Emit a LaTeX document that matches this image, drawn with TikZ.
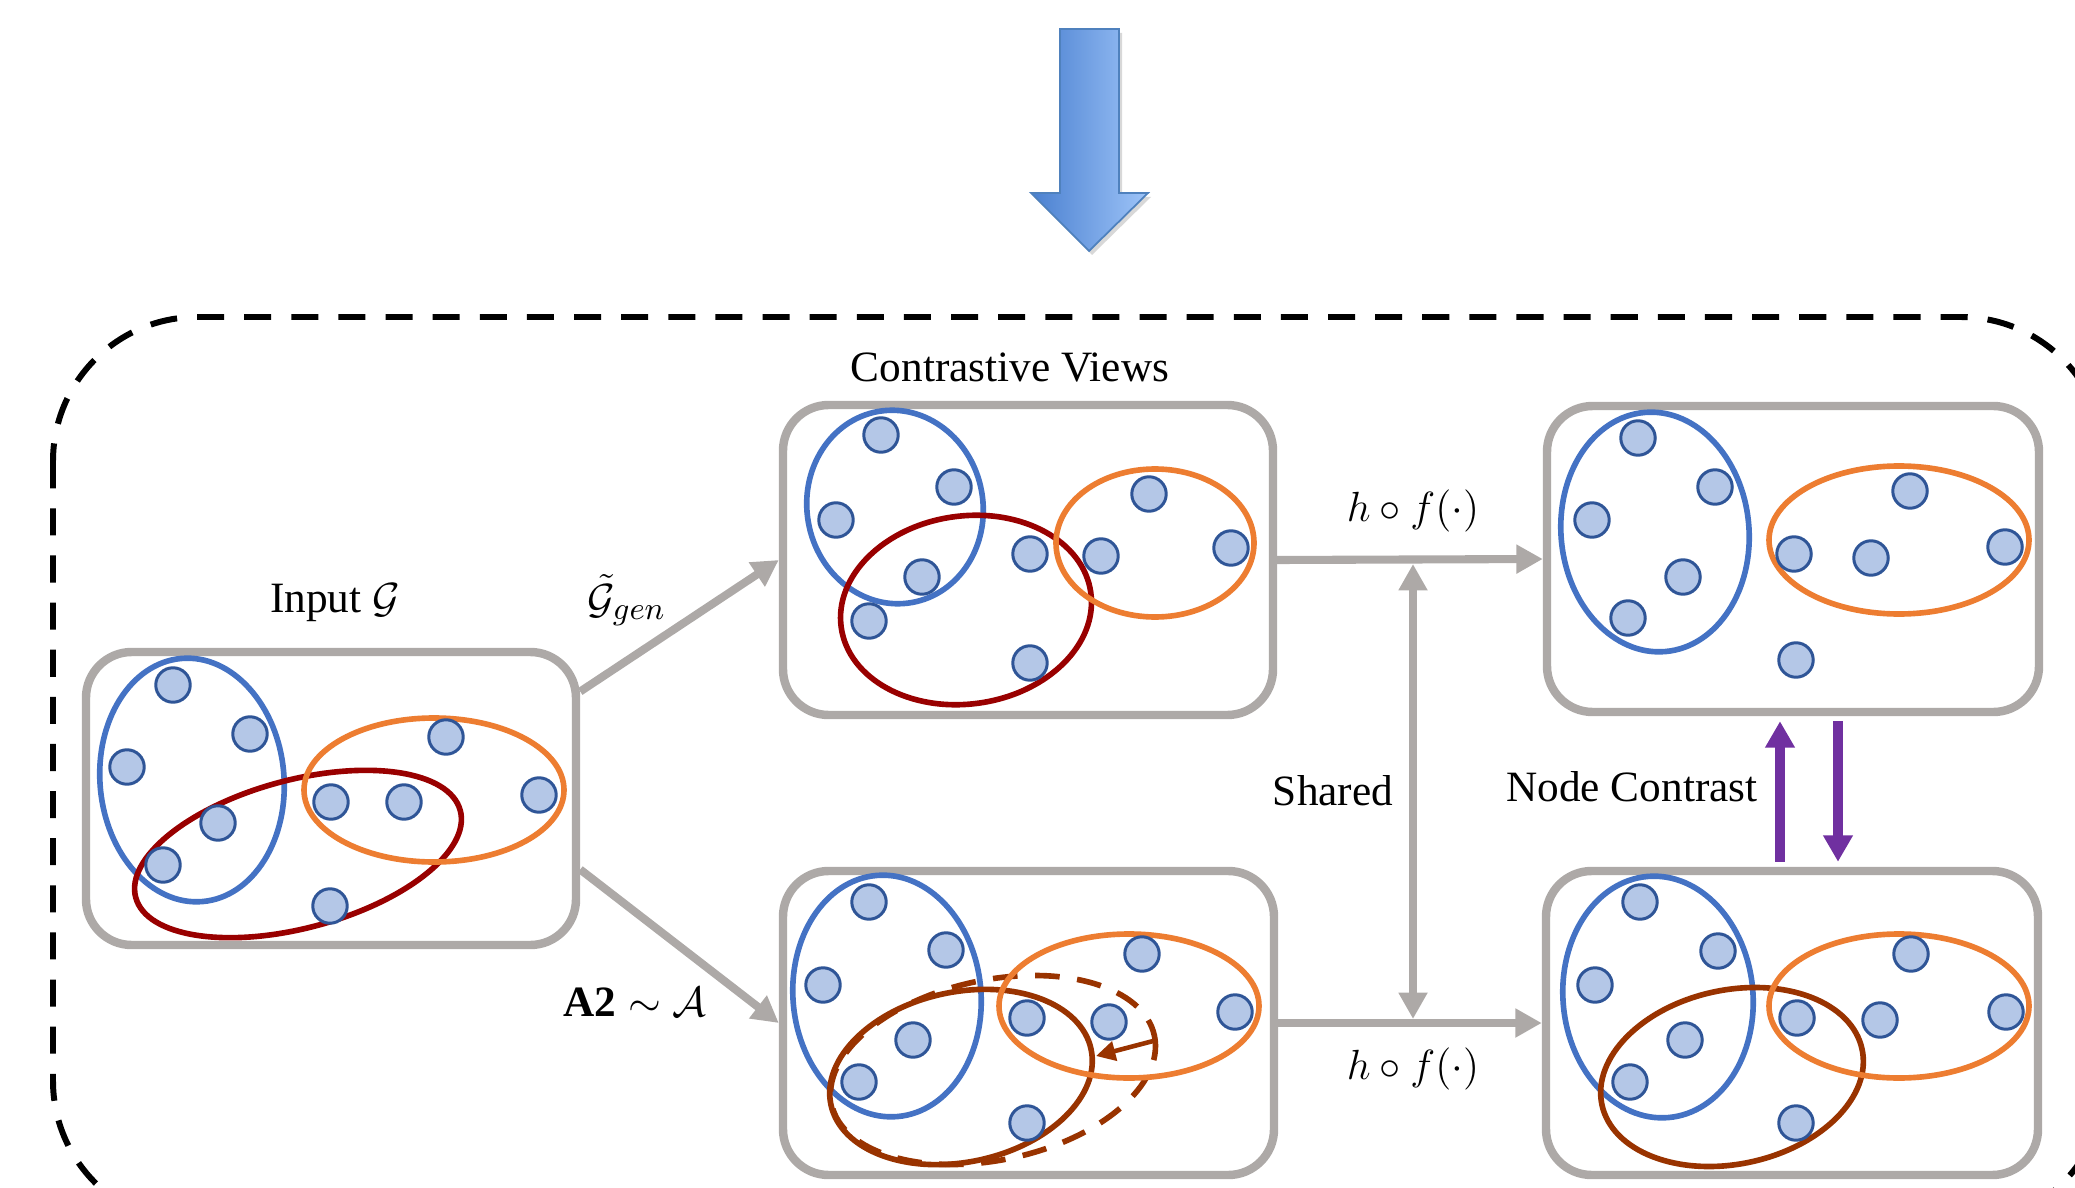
\documentclass[tikz,border=0pt]{standalone}
\usepackage{fontspec}
\setmainfont{Liberation Serif}
\usetikzlibrary{arrows.meta,calc,fit}
\definecolor{boxgray}{RGB}{173,169,167}
\definecolor{blueE}{RGB}{68,114,196}
\definecolor{orangeE}{RGB}{237,125,49}
\definecolor{redE}{RGB}{153,0,0}
\definecolor{brownE}{RGB}{153,51,0}
\definecolor{nfill}{RGB}{180,199,231}
\definecolor{ndraw}{RGB}{47,85,151}
\definecolor{purpleA}{RGB}{112,48,160}
\definecolor{bigL}{RGB}{74,128,208}
\definecolor{bigR}{RGB}{158,196,248}
\definecolor{bigB}{RGB}{79,129,189}
\begin{document}
\begin{tikzpicture}[x=0.01cm,y=-0.01cm,
  gbox/.style={draw=boxgray, line width=2.4pt, rounded corners=13pt, inner sep=0pt, fill=white},
  gn/.style={circle, draw=ndraw, fill=nfill, line width=0.85pt, minimum size=9.8pt, inner sep=0pt},
  ell/.style={line width=1.6pt},
  garrow/.style={draw=boxgray, line width=2.3pt, -{Triangle[length=7.5pt,width=7.8pt]}},
  parrow/.style={draw=purpleA, line width=2.6pt, -{Triangle[length=7.5pt,width=8pt]}},
  lbl/.style={font=\fontsize{12.3}{14}\selectfont, inner sep=1pt},
]
\useasboundingbox (0,0) rectangle (2075,1188);
\clip (0,0) rectangle (2075,1188);

% dashed frame
\draw[line width=1.7pt, dash pattern=on 7.7pt off 5.7pt, rounded corners=41pt] (53,317) rectangle (2105,1225);

% big blue arrow
\fill[black!30, opacity=0.5] (1063,33) -- (1122,33) -- (1122,197) -- (1151,197) -- (1092,255) -- (1034,197) -- (1063,197) -- cycle;
\path[draw=bigB, line width=0.5pt, left color=bigL, right color=bigR]
  (1060,29) -- (1119,29) -- (1119,193) -- (1148,193) -- (1089,251) -- (1031,193) -- (1060,193) -- cycle;

% boxes
\node[gbox, fit={(86,652)(576,945)}] (b1) {};
\node[gbox, fit={(783,405)(1273,715)}] (b2) {};
\node[gbox, fit={(783,871)(1274,1175)}] (b3) {};
\node[gbox, fit={(1547,406)(2039,712)}] (b4) {};
\node[gbox, fit={(1546,871)(2038,1175)}] (b5) {};

% ellipses box 1
\draw[ell, blueE, rotate around={5:(192,780)}] (192,780) ellipse [x radius=92, y radius=122];
\draw[ell, redE, rotate around={15:(298,854)}] (298,854) ellipse [x radius=168, y radius=74];
\draw[ell, orangeE] (434,790) ellipse [x radius=130, y radius=72];
% box 2
\draw[ell, blueE, rotate around={10:(895,507)}] (895,507) ellipse [x radius=88, y radius=97];
\draw[ell, redE, rotate around={8:(966,610)}] (966,610) ellipse [x radius=126, y radius=94];
\draw[ell, orangeE] (1155,543) ellipse [x radius=99, y radius=74];
% box 3
\draw[ell, blueE, rotate around={5:(887,996)}] (887,996) ellipse [x radius=94, y radius=121];
\draw[ell, brownE, rotate around={12:(961,1077)}] (961,1077) ellipse [x radius=133, y radius=85];
\draw[ell, brownE, dash pattern=on 7pt off 5pt, rotate around={12:(993,1070)}] (993,1070) ellipse [x radius=165, y radius=90];
\draw[ell, orangeE] (1129,1006) ellipse [x radius=130, y radius=72];
% box 4
\draw[ell, blueE, rotate around={5:(1655,532)}] (1655,532) ellipse [x radius=94, y radius=120];
\draw[ell, orangeE] (1899,540) ellipse [x radius=130, y radius=74];
% box 5
\draw[ell, blueE, rotate around={5:(1658,997)}] (1658,997) ellipse [x radius=95, y radius=121];
\draw[ell, brownE, rotate around={12:(1732,1077)}] (1732,1077) ellipse [x radius=133, y radius=87];
\draw[ell, orangeE] (1899,1006) ellipse [x radius=130, y radius=72];

% graph nodes
\foreach \p [count=\i] in {(173,685),(250,734),(127,767),(218,823),(163,865),(330,906),(446,737),(331,802),(404,802),(539,795)}
  \node[gn] (a\i) at \p {};
\foreach \p [count=\i] in {(881,435),(954,487),(836,520),(922,577),(869,621),(1030,554),(1030,663),(1149,494),(1101,556),(1231,548)}
  \node[gn] (c\i) at \p {};
\foreach \p [count=\i] in {(869,902),(946,950),(823,985),(913,1040),(859,1082),(1027,1123),(1142,954),(1027,1018),(1109,1022),(1235,1012)}
  \node[gn] (d\i) at \p {};
\foreach \p [count=\i] in {(1638,438),(1715,487),(1592,520),(1683,577),(1628,618),(1796,660),(1910,491),(1794,554),(1871,558),(2005,547)}
  \node[gn] (e\i) at \p {};
\foreach \p [count=\i] in {(1640,902),(1718,951),(1595,985),(1685,1040),(1630,1082),(1796,1123),(1911,954),(1797,1018),(1880,1020),(2006,1012)}
  \node[gn] (f\i) at \p {};

% small brown arrow (perturbation)
\coordinate (pa) at (1157,1040);
\coordinate (pb) at (1096,1056);
\draw[brownE, line width=1.3pt, -{Triangle[length=5.5pt,width=5.5pt]}] (pa) -- (pb);

% gray connectors
\draw[garrow] ($(b1.east)+(0,-107)$) -- (b2.west);
\draw[garrow] ($(b1.east)+(0,71)$) -- (b3.west);
\draw[garrow] (b2.east) -- (b4.west);
\draw[garrow] (b3.east) -- (b5.west);
\coordinate (s1) at (1413,564);
\coordinate (s2) at (1413,1019);
\draw[draw=boxgray, line width=2.3pt, {Triangle[length=7.5pt,width=7.8pt]}-{Triangle[length=7.5pt,width=7.8pt]}] (s1) -- (s2);

% purple connectors
\draw[parrow] ($(b5.north)+(-12,-5)$) -- ($(b4.south)+(-13,5)$);
\draw[parrow] ($(b4.south)+(45,5)$) -- ($(b5.north)+(46,-5)$);

% labels
\node[lbl] (tInput) at (335,603) {Input $\mathcal{G}$};
\node[lbl] (tCV) at (1010,368) {Contrastive Views};
\node[lbl] (tHf1) at (1413,511) {$h\circ f(\cdot)$};
\node[lbl] (tHf2) at (1413,1069) {$h\circ f(\cdot)$};
\node[lbl] (tShared) at (1333,791) {Shared};
\node[lbl] (tNC) at (1632,787) {Node Contrast};
\node[lbl] (tGgen) at (627,600) {$\tilde{\mathcal{G}}_{gen}$};
\node[lbl] (tA2) at (635,1002) {$\mathbf{A2}\sim\mathcal{A}$};
\end{tikzpicture}
\end{document}
